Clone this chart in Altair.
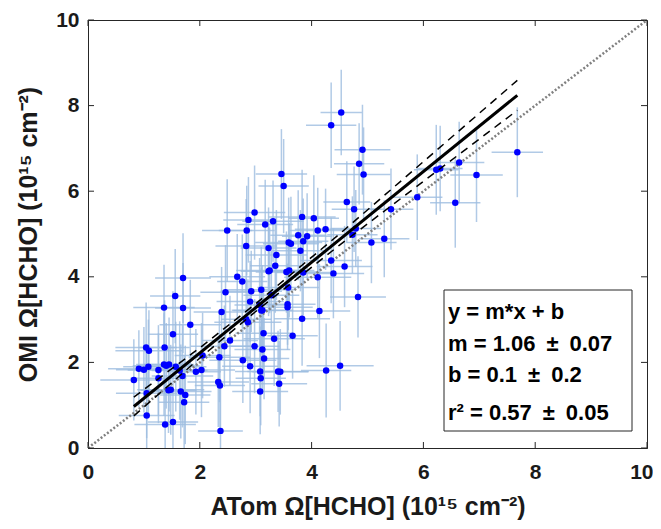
import altair as alt
import pandas as pd

# ---- data ----
x_vals = [4.53, 4.35, 4.91, 4.85, 4.93, 3.46, 3.50, 4.63, 4.76, 2.98,
          2.87, 3.17, 3.31, 3.83, 4.04, 2.49, 2.84, 4.25, 4.11, 4.79,
          3.76, 3.92, 2.83, 3.23, 3.59, 3.63, 3.85, 3.80, 3.37, 4.35,
          4.59, 3.35, 3.25, 3.23, 3.55, 3.60, 3.85, 4.39, 4.11, 2.67,
          2.76, 1.70, 2.92, 3.10, 2.46, 3.28, 3.58, 4.83, 1.56, 1.36,
          1.70, 2.90, 3.07, 3.10, 3.12, 3.57, 3.57, 4.14, 2.39, 2.83,
          2.86, 3.83, 1.83, 1.52, 3.14, 3.33, 3.66, 2.54, 2.44, 2.98,
          3.12, 1.04, 1.09, 1.37, 2.05, 2.35, 3.15, 2.77, 2.90, 3.08,
          3.40, 3.44, 4.26, 4.51, 0.91, 1.00, 1.08, 1.26, 1.36, 1.40,
          1.45, 1.57, 1.64, 1.93, 2.03, 1.26, 1.69, 0.82, 3.09, 3.42,
          2.33, 2.36, 1.44, 1.48, 1.66, 1.74, 3.08, 1.05, 1.72, 1.05,
          1.38, 1.52, 2.37, 7.68, 6.64, 6.23, 6.30, 6.95, 5.89, 6.57,
          5.42, 5.07, 5.30, 4.73]
y_vals = [7.84, 7.54, 6.97, 6.64, 6.39, 6.40, 6.12, 5.75, 5.58, 5.50,
          5.33, 5.22, 5.30, 5.40, 5.37, 5.08, 5.08, 5.11, 5.08, 5.13,
          4.97, 4.95, 4.72, 4.67, 4.80, 4.77, 4.83, 4.61, 4.51, 4.38,
          4.24, 4.26, 4.15, 4.13, 4.11, 4.15, 4.10, 4.08, 3.99, 4.00,
          3.89, 3.97, 3.66, 3.70, 3.64, 3.57, 3.75, 3.53, 3.55, 3.28,
          3.27, 3.42, 3.34, 3.21, 3.22, 3.36, 3.29, 3.20, 3.18, 3.01,
          2.94, 3.02, 2.88, 2.66, 2.68, 2.55, 2.62, 2.51, 2.38, 2.38,
          2.30, 2.35, 2.27, 2.35, 2.16, 2.12, 2.09, 2.05, 1.91, 1.79,
          1.79, 1.78, 1.81, 1.92, 1.85, 1.83, 1.90, 1.82, 1.95, 1.92,
          1.95, 1.90, 1.81, 1.78, 1.82, 1.63, 1.68, 1.59, 1.63, 1.50,
          1.54, 1.46, 1.35, 1.36, 1.32, 1.24, 1.32, 1.28, 1.07, 0.76,
          0.55, 0.61, 0.40, 6.91, 6.67, 6.50, 6.53, 6.38, 5.86, 5.73,
          5.58, 4.80, 4.89, 4.98]
x_err = [0.37, 0.45, 0.50, 0.45, 0.48, 0.46, 0.45, 0.42, 0.40, 0.55,
         0.45, 0.50, 0.55, 0.60, 0.45, 0.45, 0.50, 0.55, 0.50, 0.45,
         0.50, 0.45, 0.55, 0.50, 0.60, 0.50, 0.45, 0.50, 0.55, 0.55,
         0.50, 0.45, 0.60, 0.50, 0.55, 0.45, 0.50, 0.55, 0.60, 0.50,
         0.45, 0.50, 0.55, 0.60, 0.45, 0.50, 0.55, 0.50, 0.45, 0.55,
         0.50, 0.60, 0.45, 0.50, 0.55, 0.50, 0.45, 0.55, 0.50, 0.45,
         0.60, 0.50, 0.55, 0.45, 0.50, 0.55, 0.45, 0.50, 0.60, 0.45,
         0.50, 0.55, 0.60, 0.45, 0.50, 0.55, 0.45, 0.60, 0.50, 0.45,
         0.55, 0.50, 0.45, 0.60, 0.55, 0.50, 0.45, 0.55, 0.50, 0.60,
         0.45, 0.55, 0.50, 0.45, 0.60, 0.50, 0.55, 0.60, 0.45, 0.50,
         0.55, 0.45, 0.50, 0.60, 0.55, 0.45, 0.50, 0.55, 0.45, 0.50,
         0.55, 0.45, 0.40, 0.46, 0.45, 0.40, 0.40, 0.47, 0.45, 0.45,
         0.40, 0.45, 0.45, 0.45]
y_err = [1.00, 1.00, 1.05, 0.95, 1.10, 1.05, 1.10, 0.95, 1.00, 1.10,
         1.00, 1.05, 0.95, 1.10, 1.00, 1.20, 1.05, 0.95, 1.00, 0.90,
         1.05, 1.00, 1.10, 0.95, 1.05, 1.10, 1.00, 0.95, 1.05, 1.00,
         0.95, 1.10, 1.00, 1.05, 0.95, 1.10, 1.00, 1.05, 0.95, 1.00,
         1.10, 1.05, 0.95, 1.00, 1.10, 1.05, 1.00, 0.95, 1.10, 1.00,
         1.05, 0.95, 1.10, 1.00, 1.05, 0.95, 1.00, 1.10, 1.05, 0.95,
         1.00, 1.10, 1.05, 1.00, 0.95, 1.10, 1.00, 1.05, 0.95, 1.10,
         1.00, 1.05, 0.95, 1.10, 1.00, 1.05, 0.95, 1.00, 1.10, 1.05,
         0.95, 1.00, 1.10, 1.05, 0.90, 1.00, 1.10, 1.05, 1.20, 1.00,
         1.10, 1.05, 1.15, 1.00, 1.10, 1.05, 1.20, 0.95, 1.10, 1.00,
         1.05, 1.10, 1.00, 1.05, 1.10, 1.15, 1.00, 1.05, 1.10, 1.00,
         1.05, 1.10, 1.20, 1.05, 0.95, 1.05, 1.00, 1.10, 1.00, 1.05,
         0.95, 0.95, 0.90, 0.90]

tick_vals = [0, 2, 4, 6, 8, 10]
fit_x = [0.82, 7.68]
fit_y = [0.97, 8.24]
band_x = [0.82, 2.0, 3.0, 4.5, 6.0, 7.68]
band_upper = [1.19, 2.34, 3.37, 5.00, 6.69, 8.59]
band_lower = [0.75, 2.10, 3.19, 4.74, 6.23, 7.89]
one_x = [0, 10]
one_y = [0, 10]
stats_lines = ["y = m*x + b",
               "m = 1.06\u2002\u00b1\u20020.07",
               "b = 0.1\u2002\u00b1\u20020.2",
               "r\u00b2 = 0.57\u2002\u00b1\u20020.05"]

x_title = "ATom \u03a9[HCHO] (10\u00b9\u2075 cm\u207b\u00b2)"
y_title = "OMI \u03a9[HCHO] (10\u00b9\u2075 cm\u207b\u00b2)"

# ---- tables ----
pts = pd.DataFrame({"x": x_vals, "y": y_vals, "xe": x_err, "ye": y_err})
pts["x_lo"] = pts["x"] - pts["xe"]
pts["x_hi"] = pts["x"] + pts["xe"]
pts["y_lo"] = pts["y"] - pts["ye"]
pts["y_hi"] = pts["y"] + pts["ye"]
fit = pd.DataFrame({"x": fit_x, "y": fit_y})
band = pd.DataFrame({"x": band_x, "up": band_upper, "lo": band_lower})
one = pd.DataFrame({"x": one_x, "y": one_y})
ticks = pd.DataFrame({"t": tick_vals})

W, H = 559, 428
FONT = "Liberation Sans"
INK = "#262626"

xs = alt.Scale(domain=[0, 10], nice=False, zero=False)
ys = alt.Scale(domain=[0, 10], nice=False, zero=False)
x_axis = alt.Axis(title=x_title, values=tick_vals, format="d", labelPadding=13,
                  titlePadding=12, titleFontSize=25, grid=False, ticks=False,
                  labelFlush=True, labelFlushOffset=6)
y_axis = alt.Axis(title=y_title, values=tick_vals, format="d", labelPadding=9,
                  titlePadding=14, titleFontSize=25, grid=False, ticks=False, labelFlush=False)


def X(f):
    return alt.X(f, type="quantitative", scale=xs, axis=x_axis)


def Y(f):
    return alt.Y(f, type="quantitative", scale=ys, axis=y_axis)


ebar_color = "#9dbde0"
hbar = alt.Chart(pts).mark_rule(color=ebar_color, strokeWidth=1.5, opacity=0.8, clip=True).encode(
    x=X("x_lo"), x2="x_hi", y=Y("y"))
vbar = alt.Chart(pts).mark_rule(color=ebar_color, strokeWidth=1.5, opacity=0.8, clip=True).encode(
    x=X("x"), y=Y("y_lo"), y2="y_hi")
oneline = alt.Chart(one).mark_line(color="#808080", strokeWidth=2.5, strokeDash=[2, 2], clip=True).encode(
    x=X("x"), y=Y("y"))
points = alt.Chart(pts).mark_circle(size=42, color="#0000ff", opacity=1).encode(
    x=X("x"), y=Y("y"))
fitline = alt.Chart(fit).mark_line(color="black", strokeWidth=3).encode(x=X("x"), y=Y("y"))
up = alt.Chart(band).mark_line(color="black", strokeWidth=1.5, strokeDash=[8, 6]).encode(
    x=X("x"), y=Y("up"))
lo = alt.Chart(band).mark_line(color="black", strokeWidth=1.5, strokeDash=[8, 6]).encode(
    x=X("x"), y=Y("lo"))

tk = alt.Chart(ticks)
tb = tk.mark_rule(color=INK, strokeWidth=1).encode(x=X("t"), y=alt.value(H), y2=alt.value(H - 6))
tt = tk.mark_rule(color=INK, strokeWidth=1).encode(x=X("t"), y=alt.value(0), y2=alt.value(6))
tl = tk.mark_rule(color=INK, strokeWidth=1).encode(y=Y("t"), x=alt.value(0), x2=alt.value(6))
tr = tk.mark_rule(color=INK, strokeWidth=1).encode(y=Y("t"), x=alt.value(W), x2=alt.value(W - 6))

box_src = pd.DataFrame({"k": [0]})
box = alt.Chart(box_src).mark_rect(fill="white", stroke=INK, strokeWidth=1).encode(
    x=alt.value(356), x2=alt.value(544), y=alt.value(270), y2=alt.value(411))

line_y = [299, 331, 362, 400]
texts = []
for s, yy in zip(stats_lines, line_y):
    texts.append(alt.Chart(box_src).mark_text(
        text=s, align="left", baseline="alphabetic", font=FONT, fontWeight="bold",
        fontSize=22, color="black").encode(x=alt.value(360), y=alt.value(yy)))

chart = alt.layer(hbar, vbar, oneline, points, fitline, up, lo, tb, tt, tl, tr, box, *texts).properties(
    width=W, height=H,
    background="white",
    autosize=alt.AutoSizeParams(type="none"),
    padding={"left": 80, "top": 12, "right": 6, "bottom": 73},
).configure_view(stroke=INK, strokeWidth=1).configure_axis(
    ticks=False, grid=False, domainColor=INK, domainWidth=1,
    labelFont=FONT, labelFontWeight="bold", labelFontSize=21, labelColor="#1a1a1a",
    titleFont=FONT, titleFontWeight="bold", titleColor="#1a1a1a",
)

chart.save("out.html", embed_options={"renderer": "svg", "actions": False})
